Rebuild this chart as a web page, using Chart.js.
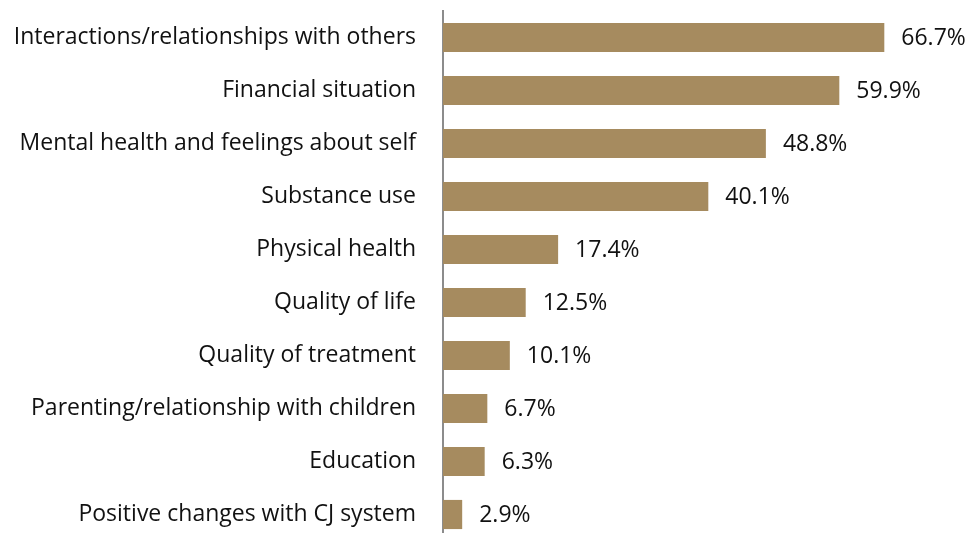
<!DOCTYPE html>
<html>
<head>
<meta charset="utf-8">
<script src="https://cdn.jsdelivr.net/npm/chart.js@4"></script>
<style>
  html, body { margin: 0; padding: 0; background: #fff; overflow: hidden; }
  #wrap { position: relative; width: 969px; height: 541px; }
</style>
</head>
<body>
<div id="wrap"><canvas id="chart"></canvas></div>
<script>
// Categories and their shares (percent), top to bottom
const categories = [
  "Interactions/relationships with others",
  "Financial situation",
  "Mental health and feelings about self",
  "Substance use",
  "Physical health",
  "Quality of life",
  "Quality of treatment",
  "Parenting/relationship with children",
  "Education",
  "Positive changes with CJ system"
];
const shares = [66.7, 59.9, 48.8, 40.1, 17.4, 12.5, 10.1, 6.7, 6.3, 2.9];

const FONT = "'Open Sans', sans-serif";
const BAR_COLOR = "#A68B5F";

// Writes each bar's value just past its end
const valueLabels = {
  id: "valueLabels",
  afterDatasetsDraw(chart) {
    const ctx = chart.ctx;
    const meta = chart.getDatasetMeta(0);
    ctx.save();
    ctx.font = "23px " + FONT;
    ctx.fillStyle = "#111";
    ctx.textAlign = "left";
    ctx.textBaseline = "middle";
    meta.data.forEach((bar, i) => {
      ctx.fillText(shares[i].toFixed(1) + "%", bar.x + 17, bar.y + 1);
    });
    ctx.restore();
  }
};

new Chart(document.getElementById("chart"), {
  type: "bar",
  data: {
    labels: categories,
    datasets: [{
      data: shares,
      backgroundColor: BAR_COLOR,
      borderWidth: 0,
      barPercentage: 0.55,
      categoryPercentage: 1.0
    }]
  },
  options: {
    indexAxis: "y",
    responsive: true,
    maintainAspectRatio: false,
    animation: false,
    layout: { padding: { top: 11, right: 0, bottom: 0, left: 0 } },
    plugins: { legend: { display: false }, tooltip: { enabled: false } },
    scales: {
      x: { display: false, min: 0, max: 79.5 },
      y: {
        afterFit(scale) {
          scale.width = 443;
          scale.paddingTop = 0;
          scale.paddingBottom = 0;
        },
        grid: { display: false, drawTicks: false },
        border: { display: true, color: "#8c8c8c", width: 2 },
        ticks: {
          padding: 27,
          color: "#111",
          font: { family: FONT, size: 23 }
        }
      }
    }
  },
  plugins: [valueLabels]
});
</script>
</body>
</html>
